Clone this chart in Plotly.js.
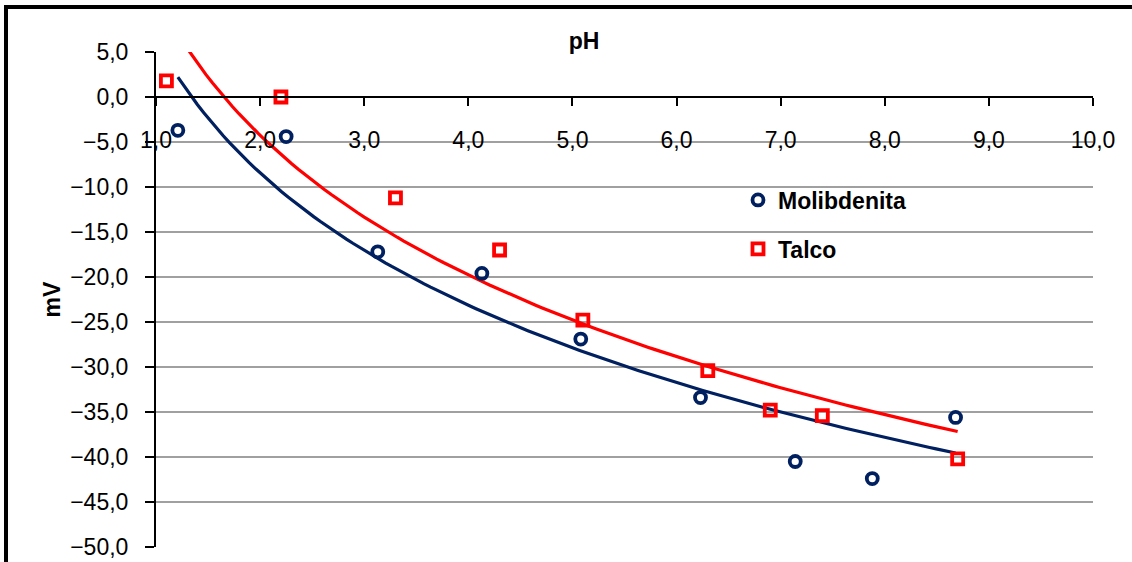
<!DOCTYPE html>
<html>
<head>
<meta charset="utf-8">
<script src="https://cdn.plot.ly/plotly-3.0.1.min.js"></script>
<style>
html,body{margin:0;padding:0;background:#fff;}
#chart{width:1132px;height:562px;}
</style>
</head>
<body>
<div id="chart"></div>
<script>
// Data
const molibdenitaPH = [1.21, 2.25, 3.13, 4.13, 5.08, 6.23, 7.14, 7.88, 8.68];
const molibdenitaMV = [-3.7, -4.4, -17.2, -19.6, -26.9, -33.4, -40.5, -42.4, -35.6];
const talcoPH = [1.10, 2.20, 3.30, 4.30, 5.10, 6.30, 6.90, 7.40, 8.70];
const talcoMV = [1.8, 0.0, -11.2, -17.0, -24.8, -30.4, -34.8, -35.4, -40.2];
const xTickVals = [1, 2, 3, 4, 5, 6, 7, 8, 9, 10];
const yTickVals = [5, 0, -5, -10, -15, -20, -25, -30, -35, -40, -45, -50];

// Logarithmic trendline (least squares y = a ln x + b), as in the original spreadsheet
function logFit(xs, ys) {
  const lx = xs.map(Math.log);
  const n = xs.length;
  const mx = lx.reduce((s, v) => s + v, 0) / n;
  const my = ys.reduce((s, v) => s + v, 0) / n;
  let sxy = 0, sxx = 0;
  for (let i = 0; i < n; i++) { sxy += (lx[i] - mx) * (ys[i] - my); sxx += (lx[i] - mx) ** 2; }
  const a = sxy / sxx, b = my - a * mx;
  const x0 = Math.min(...xs), x1 = Math.max(...xs);
  const X = [], Y = [];
  for (let i = 0; i <= 120; i++) { const x = x0 + (x1 - x0) * i / 120; X.push(x); Y.push(a * Math.log(x) + b); }
  return {X, Y};
}
const fitM = logFit(molibdenitaPH, molibdenitaMV);
const fitT = logFit(talcoPH, talcoMV);

const NAVY = '#002060', RED = '#FF0000';
const FONT = 'Liberation Sans, Arial, sans-serif';

const traces = [
  {x: fitM.X, y: fitM.Y, mode: 'lines', line: {color: NAVY, width: 3.2}, showlegend: false, hoverinfo: 'skip'},
  {x: fitT.X, y: fitT.Y, mode: 'lines', line: {color: RED, width: 3.2}, showlegend: false, hoverinfo: 'skip'},
  {x: molibdenitaPH, y: molibdenitaMV, mode: 'markers', name: 'Molibdenita', legend: 'legend',
   marker: {symbol: 'circle-open', size: 11, color: NAVY, line: {width: 3.8, color: NAVY}}},
  {x: talcoPH, y: talcoMV, mode: 'markers', name: 'Talco', legend: 'legend2',
   marker: {symbol: 'square-open', size: 11, color: RED, line: {width: 3.8, color: RED}}}
];

const L = 156, R = 1093, T = 52, B = 547;
const pw = R - L, ph = B - T;
const px2x = p => (p - L) / pw;
const py2y = p => (B - p) / ph;

const layout = {
  width: 1132, height: 562,
  margin: {l: L, r: 1132 - R, t: T, b: 562 - B, pad: 0},
  paper_bgcolor: '#fff', plot_bgcolor: '#fff',
  separators: ',.',
  font: {family: FONT, size: 23, color: '#000'},
  title: {text: '<b>pH</b>', font: {family: FONT, size: 23, color: '#000'},
          xref: 'container', x: 584 / 1132, xanchor: 'center',
          yref: 'container', y: 1 - 41 / 562, yanchor: 'middle'},
  xaxis: {
    range: [1, 10], tickvals: xTickVals, tickformat: '.1f',
    anchor: 'free', position: 50 / 55,
    showgrid: false, zeroline: false,
    showline: true, linecolor: '#000', linewidth: 2,
    ticks: 'outside', ticklen: 8, tickwidth: 2, tickcolor: '#000',
    ticklabelstandoff: 14,
    tickfont: {family: FONT, size: 23, color: '#000'}
  },
  yaxis: {
    range: [-50, 5], tickvals: yTickVals, tickformat: '.1f',
    showgrid: true, gridcolor: '#a0a0a0', gridwidth: 2,
    zeroline: false,
    showline: true, linecolor: '#000', linewidth: 2,
    ticks: 'outside', ticklen: 9, tickwidth: 2, tickcolor: '#000',
    ticklabelstandoff: 12,
    tickfont: {family: FONT, size: 23, color: '#000'},
    title: {text: '<b>mV</b>', font: {family: FONT, size: 23, color: '#000'}, standoff: 3}
  },
  legend: {x: px2x(738), y: py2y(200), xanchor: 'left', yanchor: 'middle',
           bgcolor: 'rgba(0,0,0,0)', borderwidth: 0, itemwidth: 30,
           font: {family: FONT, size: 23, color: '#000', weight: 'bold'}},
  legend2: {x: px2x(738), y: py2y(249), xanchor: 'left', yanchor: 'middle',
           bgcolor: 'rgba(0,0,0,0)', borderwidth: 0, itemwidth: 30,
           font: {family: FONT, size: 23, color: '#000', weight: 'bold'}},
  shapes: [
    {type: 'line', xref: 'paper', yref: 'paper', x0: px2x(6), x1: px2x(1140), y0: py2y(7), y1: py2y(7),
     line: {color: '#000', width: 4}},
    {type: 'line', xref: 'paper', yref: 'paper', x0: px2x(6), x1: px2x(6), y0: py2y(5), y1: py2y(570),
     line: {color: '#000', width: 4}}
  ],
  showlegend: true
};

Plotly.newPlot('chart', traces, layout, {staticPlot: true, displayModeBar: false});
</script>
</body>
</html>
